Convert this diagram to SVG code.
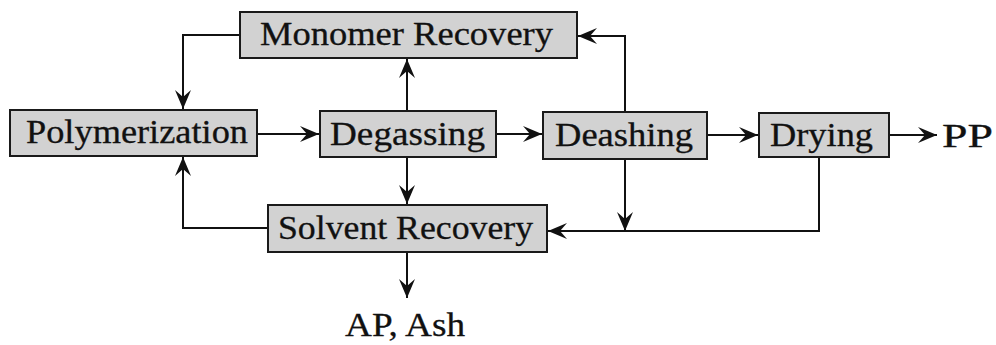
<svg xmlns="http://www.w3.org/2000/svg" width="996" height="345" viewBox="0 0 996 345">
  <defs>
    <marker id="arrow" markerUnits="userSpaceOnUse" markerWidth="24" markerHeight="22" viewBox="-21 -11 23 22" refX="0" refY="0" orient="auto">
      <path d="M0,0 L-19,-8 L-12,0 L-19,8 Z" fill="#111"/>
    </marker>
  </defs>
  <style>
    .box { fill: #d2d2d2; stroke: #1a1a1a; stroke-width: 2; }
    .lbl { font-family: "Liberation Serif", "Times New Roman", serif; font-size: 33px; fill: #111; stroke: #111; stroke-width: 0.3; }
    .wire { fill: none; stroke: #111; stroke-width: 2; marker-end: url(#arrow); }
  </style>
  <rect width="996" height="345" fill="#ffffff"/>

  <!-- connectors -->
  <g id="connectors">
    <path class="wire" d="M240,35 H183 V109"/>
    <path class="wire" d="M257,134 H319"/>
    <path class="wire" d="M407,111 V59"/>
    <path class="wire" d="M496,134 H542"/>
    <path class="wire" d="M625,112 V36 H578"/>
    <path class="wire" d="M707,135 H758"/>
    <path class="wire" d="M889,135 H937"/>
    <path class="wire" d="M407,157 V204"/>
    <path class="wire" d="M268,228 H183 V157"/>
    <path class="wire" d="M407,252 V298"/>
    <path class="wire" d="M819,158 V231 H548"/>
    <path class="wire" d="M625,159 V231"/>
  </g>

  <!-- process units -->
  <g id="monomer-recovery">
    <rect class="box" x="240" y="12" width="337" height="46"/>
    <text class="lbl" x="260" y="45" textLength="293" lengthAdjust="spacingAndGlyphs">Monomer Recovery</text>
  </g>
  <g id="polymerization">
    <rect class="box" x="10" y="110" width="247" height="46"/>
    <text class="lbl" x="26" y="143" textLength="222" lengthAdjust="spacingAndGlyphs">Polymerization</text>
  </g>
  <g id="degassing">
    <rect class="box" x="320" y="111" width="176" height="46"/>
    <text class="lbl" x="330" y="145" textLength="155" lengthAdjust="spacingAndGlyphs">Degassing</text>
  </g>
  <g id="deashing">
    <rect class="box" x="543" y="112" width="164" height="47"/>
    <text class="lbl" x="555" y="146" textLength="138" lengthAdjust="spacingAndGlyphs">Deashing</text>
  </g>
  <g id="drying">
    <rect class="box" x="759" y="113" width="130" height="44"/>
    <text class="lbl" x="770" y="146" textLength="103" lengthAdjust="spacingAndGlyphs">Drying</text>
  </g>
  <g id="solvent-recovery">
    <rect class="box" x="268" y="205" width="279" height="47"/>
    <text class="lbl" x="278" y="239" textLength="255" lengthAdjust="spacingAndGlyphs">Solvent Recovery</text>
  </g>

  <!-- outputs -->
  <g id="pp">
    <text class="lbl" x="942" y="147" textLength="51" lengthAdjust="spacingAndGlyphs">PP</text>
  </g>
  <g id="ap-ash">
    <text class="lbl" x="345" y="336" textLength="120" lengthAdjust="spacingAndGlyphs">AP, Ash</text>
  </g>
</svg>
